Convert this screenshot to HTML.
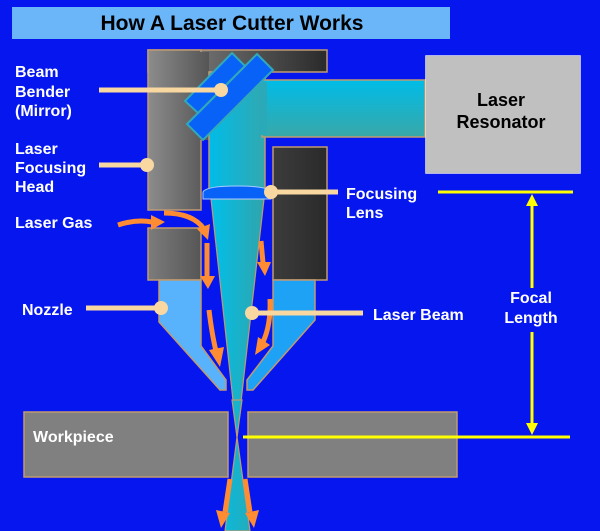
<!DOCTYPE html>
<html><head><meta charset="utf-8"><style>
html,body{margin:0;padding:0;background:#0616ee;}
svg{display:block;}
text{font-family:"Liberation Sans",sans-serif;font-weight:bold;}
</style></head><body>
<svg width="600" height="531" viewBox="0 0 600 531" xmlns="http://www.w3.org/2000/svg">
<defs>
<linearGradient id="gTop" gradientUnits="userSpaceOnUse" x1="148" y1="0" x2="327" y2="0"><stop offset="0" stop-color="#8c8c8c"/><stop offset="1" stop-color="#2a2a2a"/></linearGradient>
<linearGradient id="gLeft" gradientUnits="userSpaceOnUse" x1="148" y1="0" x2="209" y2="0"><stop offset="0" stop-color="#8c8c8c"/><stop offset="1" stop-color="#555"/></linearGradient>
<linearGradient id="gLow" gradientUnits="userSpaceOnUse" x1="148" y1="0" x2="201" y2="0"><stop offset="0" stop-color="#7c7c7c"/><stop offset="1" stop-color="#565656"/></linearGradient>
<linearGradient id="gRight" gradientUnits="userSpaceOnUse" x1="273" y1="0" x2="327" y2="0"><stop offset="0" stop-color="#3c3c3c"/><stop offset="1" stop-color="#2a2a2a"/></linearGradient>
<linearGradient id="gBeamV" gradientUnits="userSpaceOnUse" x1="209" y1="0" x2="265" y2="0"><stop offset="0" stop-color="#00bce8"/><stop offset="1" stop-color="#32a8b0"/></linearGradient>
<linearGradient id="gBeamH" gradientUnits="userSpaceOnUse" x1="0" y1="80" x2="0" y2="137"><stop offset="0" stop-color="#00bce8"/><stop offset="1" stop-color="#38a8a8"/></linearGradient>
<linearGradient id="gCone" gradientUnits="userSpaceOnUse" x1="211" y1="0" x2="264" y2="0"><stop offset="0" stop-color="#00c0ea"/><stop offset="1" stop-color="#30a4ac"/></linearGradient>
</defs>

<!-- title -->
<rect x="12" y="7" width="438" height="32" fill="#6ab6f8"/>
<text x="232" y="30" font-size="21" fill="#000" text-anchor="middle">How A Laser Cutter Works</text>

<!-- focusing head gray parts -->
<rect x="148" y="50" width="179" height="22" fill="url(#gTop)" stroke="#c09a70" stroke-width="1.5"/>
<rect x="148" y="50" width="53" height="160" fill="url(#gLeft)" stroke="#c09a70" stroke-width="1.5"/>
<rect x="149" y="52" width="60" height="88" fill="url(#gLeft)"/>
<rect x="148" y="228" width="53" height="52" fill="url(#gLow)" stroke="#c09a70" stroke-width="1.5"/>
<rect x="273" y="147" width="54" height="133" fill="url(#gRight)" stroke="#c09a70" stroke-width="1.5"/>

<!-- beam column & horizontal beam -->
<rect x="209" y="72" width="56" height="120" fill="url(#gBeamV)" stroke="#c09a70" stroke-width="1.5"/>
<rect x="262" y="80" width="163" height="57" fill="url(#gBeamH)" stroke="#c09a70" stroke-width="1.5"/>
<rect x="259" y="82" width="8" height="53" fill="#2aaab8"/>

<!-- resonator -->
<rect x="425.5" y="55.5" width="155" height="118" fill="#c0c0c0" stroke="#ffffff" stroke-width="1" stroke-dasharray="1 1"/>
<text x="501" y="106" font-size="18" fill="#000" text-anchor="middle">Laser</text>
<text x="501" y="128" font-size="18" fill="#000" text-anchor="middle">Resonator</text>

<!-- mirrors -->
<polygon points="187,124 257,54 273,70 203,140" fill="#0862f8" stroke="#32a8b8" stroke-width="2"/>
<polygon points="185,101 232,53 245,66 198,113" fill="#0862f8" stroke="#32a8b8" stroke-width="2"/>

<!-- nozzle -->
<polygon points="159,280 201,280 201,346 226,380 226,390 220,390 159,322" fill="#58b2fc" stroke="#c09a70" stroke-width="1.5"/>
<polygon points="273,280 315,280 315,320 253,390 247,390 247,380 273,346" fill="#1ea2f6" stroke="#c09a70" stroke-width="1.5"/>

<!-- cone -->
<polygon points="211,199 264,199 237,437" fill="url(#gCone)" stroke="#c09a70" stroke-width="1.2"/>

<!-- workpiece -->
<rect x="24" y="412" width="204" height="65" fill="#808080" stroke="#c09a70" stroke-width="1.5"/>
<rect x="248" y="412" width="209" height="65" fill="#808080" stroke="#c09a70" stroke-width="1.5"/>
<text x="33" y="442" font-size="16" fill="#fff">Workpiece</text>

<!-- cone crossing and lower cone -->
<polygon points="232,400 242,400 237,437" fill="url(#gCone)" stroke="#c09a70" stroke-width="1.2"/>
<polygon points="237,437 250,531 225,531" fill="url(#gCone)" stroke="#c09a70" stroke-width="1.2"/>

<!-- lens -->
<path d="M203,199 L203,192 Q206,186 237,186 Q268,186 271,192 L271,199 Z" fill="#0862f8" stroke="#a8ccff" stroke-width="1"/>

<!-- orange arrows -->
<g fill="none" stroke="#ff8c32" stroke-width="5" stroke-linecap="butt">
<path d="M118,225 Q136,219 152,222"/>
<path d="M164,213 Q193,213 204,229"/>
<path d="M207,243 L207,277"/>
<path d="M209,310 Q212,335 216,351"/>
<path d="M261,241 L263,263"/>
<path d="M270,299 Q271,325 263,342"/>
<path d="M230,479 L225,512"/>
<path d="M245,479 L250,512"/>
</g>
<g fill="#ff8c32">
<polygon points="165,222 151,215 151,230"/>
<polygon points="208,240 197,229 210,224"/>
<polygon points="208,289 200,276 215,276"/>
<polygon points="220,367 209,350 224,347"/>
<polygon points="265,276 257,262 271,262"/>
<polygon points="255,355 258,337 270,345"/>
<polygon points="221,528 216,510 230,513"/>
<polygon points="254,528 245,513 259,510"/>
</g>

<!-- yellow focal length -->
<g stroke="#ffff00" stroke-width="3">
<line x1="438" y1="192" x2="573" y2="192"/>
<line x1="243" y1="437" x2="570" y2="437"/>
<line x1="532" y1="203" x2="532" y2="288"/>
<line x1="532" y1="332" x2="532" y2="425"/>
</g>
<g fill="#ffff00">
<polygon points="532,194 526,206 538,206"/>
<polygon points="532,435 526,423 538,423"/>
</g>
<text x="531" y="303" font-size="16" fill="#fff" text-anchor="middle">Focal</text>
<text x="531" y="323" font-size="16" fill="#fff" text-anchor="middle">Length</text>

<!-- leader lines -->
<g stroke="#f8d8a0" stroke-width="5">
<line x1="99" y1="90" x2="221" y2="90"/>
<line x1="99" y1="165" x2="147" y2="165"/>
<line x1="271" y1="192" x2="338" y2="192"/>
<line x1="86" y1="308" x2="161" y2="308"/>
<line x1="252" y1="313" x2="363" y2="313"/>
</g>
<g fill="#f8d8a0">
<circle cx="221" cy="90" r="7"/>
<circle cx="147" cy="165" r="7"/>
<circle cx="271" cy="192" r="7"/>
<circle cx="161" cy="308" r="7"/>
<circle cx="252" cy="313" r="7"/>
</g>

<!-- labels -->
<g font-size="16" fill="#fff">
<text x="15" y="77">Beam</text>
<text x="15" y="97">Bender</text>
<text x="15" y="116">(Mirror)</text>
<text x="15" y="154">Laser</text>
<text x="15" y="173">Focusing</text>
<text x="15" y="192">Head</text>
<text x="15" y="228">Laser Gas</text>
<text x="22" y="315">Nozzle</text>
<text x="346" y="199">Focusing</text>
<text x="346" y="218">Lens</text>
<text x="373" y="320">Laser Beam</text>
</g>
</svg>
</body></html>
